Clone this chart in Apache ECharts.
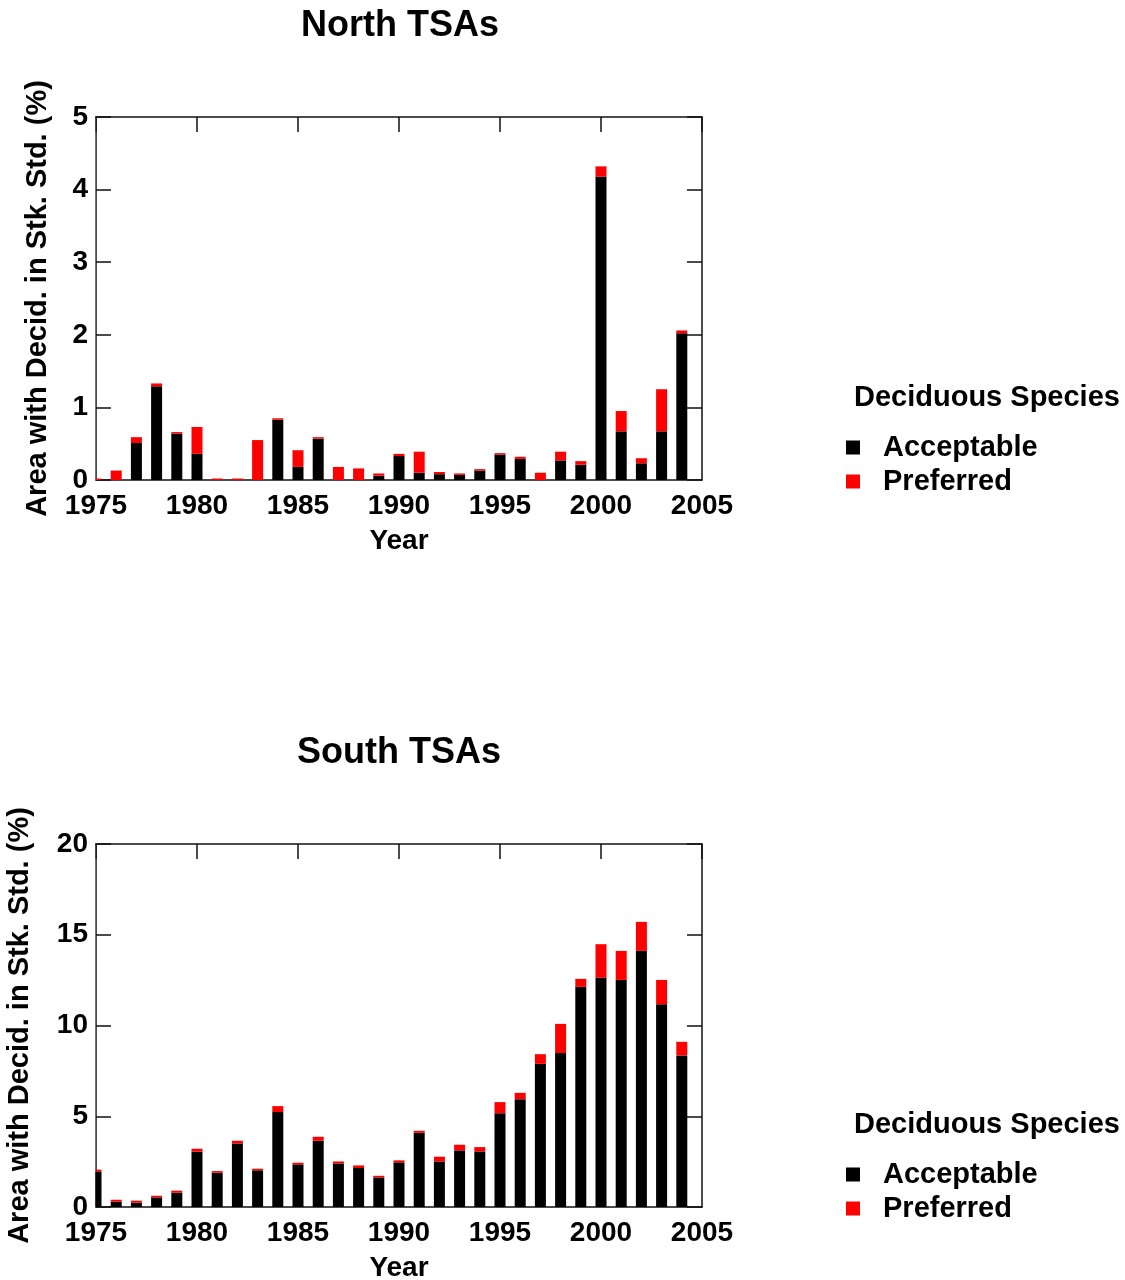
<!DOCTYPE html>
<html>
<head>
<meta charset="utf-8">
<script src="https://cdn.jsdelivr.net/npm/echarts@6/dist/echarts.min.js"></script>
<style>
  html, body { margin: 0; padding: 0; background: #fff; }
  #chart { width: 1125px; height: 1280px; }
</style>
</head>
<body>
<div id="chart"></div>
<script>
// Harvest years (bars sit on the year value)
const years = [1975, 1976, 1977, 1978, 1979, 1980, 1981, 1982, 1983, 1984,
               1985, 1986, 1987, 1988, 1989, 1990, 1991, 1992, 1993, 1994,
               1995, 1996, 1997, 1998, 1999, 2000, 2001, 2002, 2003, 2004];

// North TSAs: % of area with deciduous species in stocking standard
const northAcceptable = [0, 0, 0.51, 1.29, 0.64, 0.36, 0, 0, 0, 0.83,
                         0.18, 0.57, 0, 0, 0.06, 0.33, 0.10, 0.08, 0.07, 0.13,
                         0.35, 0.29, 0, 0.27, 0.21, 4.18, 0.67, 0.23, 0.67, 2.02];
const northPreferred  = [0.02, 0.13, 0.08, 0.04, 0.02, 0.37, 0.02, 0.02, 0.55, 0.02,
                         0.23, 0.02, 0.18, 0.16, 0.03, 0.03, 0.29, 0.03, 0.02, 0.02,
                         0.02, 0.03, 0.10, 0.12, 0.05, 0.14, 0.28, 0.07, 0.58, 0.04];

// South TSAs
const southAcceptable = [1.96, 0.29, 0.24, 0.53, 0.79, 3.05, 1.89, 3.50, 2.02, 5.23,
                         2.35, 3.65, 2.40, 2.15, 1.63, 2.46, 4.09, 2.51, 3.12, 3.06,
                         5.17, 5.94, 7.89, 8.48, 12.13, 12.64, 12.51, 14.11, 11.17, 8.35];
const southPreferred  = [0.10, 0.11, 0.11, 0.09, 0.11, 0.16, 0.09, 0.15, 0.09, 0.33,
                         0.09, 0.22, 0.11, 0.14, 0.09, 0.11, 0.11, 0.26, 0.31, 0.24,
                         0.61, 0.35, 0.53, 1.61, 0.44, 1.84, 1.60, 1.60, 1.34, 0.75];

const yearTicks = [1975, 1980, 1985, 1990, 1995, 2000, 2005];
const panelTitles = ['North TSAs', 'South TSAs'];
const legendTitle = 'Deciduous Species';
const seriesNames = ['Acceptable', 'Preferred'];
const seriesColors = ['#000000', '#ff0000'];
const yTitle = 'Area with Decid. in Stk. Std. (%)';
const xTitle = 'Year';
const yMax = [5, 20];
const yStep = [1, 5];

const FONT = "'Liberation Sans', Arial, Helvetica, sans-serif";
const BAR_W = 11;
// value first, year second: the value dimension is then the one that gets stacked
const rows = (vals) => years.map((y, i) => [vals[i], y]);

const lineStyle = { color: '#111', width: 1.5 };

function xAxesFor(gridIndex) {
  return [
    {
      gridIndex, type: 'value', position: 'bottom',
      min: yearTicks[0], max: yearTicks[yearTicks.length - 1], interval: 5,
      axisLine: { show: true, onZero: false, lineStyle },
      axisTick: { show: false },
      splitLine: { show: false },
      axisLabel: { color: '#000', fontFamily: FONT, fontWeight: 'bold', fontSize: 28, margin: 12,
                   formatter: (v) => String(v) },
      name: xTitle, nameLocation: 'middle', nameGap: 47,
      nameTextStyle: { color: '#000', fontFamily: FONT, fontWeight: 'bold', fontSize: 28 }
    },
    {
      gridIndex, type: 'value', position: 'top',
      min: yearTicks[0], max: yearTicks[yearTicks.length - 1], interval: 5,
      axisLine: { show: true, onZero: false, lineStyle },
      axisTick: { show: true, inside: true, length: 15, lineStyle },
      splitLine: { show: false },
      axisLabel: { show: false }
    }
  ];
}

function yAxesFor(gridIndex, max, interval, nameGap) {
  return [
    {
      gridIndex, type: 'value', position: 'left', min: 0, max, interval,
      axisLine: { show: true, onZero: false, lineStyle },
      axisTick: { show: true, inside: true, length: 15, lineStyle },
      splitLine: { show: false },
      axisLabel: { color: '#000', fontFamily: FONT, fontWeight: 'bold', fontSize: 28, margin: 8 },
      name: yTitle, nameLocation: 'middle', nameGap, nameRotate: 90,
      nameTextStyle: { color: '#000', fontFamily: FONT, fontWeight: 'bold', fontSize: 29 }
    },
    {
      gridIndex, type: 'value', position: 'right', min: 0, max, interval,
      axisLine: { show: true, onZero: false, lineStyle },
      axisTick: { show: true, inside: true, length: 15, lineStyle },
      splitLine: { show: false },
      axisLabel: { show: false }
    }
  ];
}

function barSeries(name, color, vals, axisIndex, stack) {
  return {
    name, type: 'bar', stack,
    xAxisIndex: axisIndex, yAxisIndex: axisIndex,
    encode: { x: 1, y: 0 },
    barWidth: BAR_W,
    itemStyle: { color },
    emphasis: { disabled: true },
    data: rows(vals)
  };
}

function legendAt(top) {
  return {
    orient: 'vertical', left: 846, top, padding: 0,
    itemWidth: 14, itemHeight: 14, itemGap: 5, icon: 'rect',
    data: seriesNames,
    textStyle: { color: '#000', fontFamily: FONT, fontWeight: 'bold', fontSize: 29,
                 lineHeight: 28, padding: [0, 0, 0, 18] }
  };
}

function titleAt(text, left, top, size, align) {
  return {
    text, left, top, padding: 0, textAlign: align,
    textStyle: { color: '#000', fontFamily: FONT, fontWeight: 'bold', fontSize: size }
  };
}

const chart = echarts.init(document.getElementById('chart'), null, { renderer: 'canvas' });

chart.setOption({
  backgroundColor: '#fff',
  animation: false,
  title: [
    titleAt(panelTitles[0], 400, 8, 36, 'center'),
    titleAt(panelTitles[1], 399, 735, 36, 'center'),
    titleAt(legendTitle, 854, 383, 29, 'left'),
    titleAt(legendTitle, 854, 1110, 29, 'left')
  ],
  legend: [legendAt(433), legendAt(1160)],
  grid: [
    { left: 96, top: 117, width: 606, height: 363, containLabel: false, outerBoundsMode: 'none' },
    { left: 96, top: 844, width: 606, height: 363, containLabel: false, outerBoundsMode: 'none' }
  ],
  xAxis: [...xAxesFor(0), ...xAxesFor(1)],
  yAxis: [...yAxesFor(0, yMax[0], yStep[0], 44), ...yAxesFor(1, yMax[1], yStep[1], 62)],
  series: [
    barSeries(seriesNames[0], seriesColors[0], northAcceptable, 0, 'north'),
    barSeries(seriesNames[1], seriesColors[1], northPreferred, 0, 'north'),
    barSeries(seriesNames[0], seriesColors[0], southAcceptable, 2, 'south'),
    barSeries(seriesNames[1], seriesColors[1], southPreferred, 2, 'south')
  ]
});

// Bars on a value axis are not clipped at the plot edge; trim the part of the
// first-year bar that spills left of the y axis with a white strip.
const masks = [0, 2].map((axisIndex, k) => {
  const bottomLeft = chart.convertToPixel({ xAxisIndex: axisIndex, yAxisIndex: axisIndex }, [yearTicks[0], 0]);
  const topLeft = chart.convertToPixel({ xAxisIndex: axisIndex, yAxisIndex: axisIndex }, [yearTicks[0], yMax[k]]);
  const w = BAR_W / 2 + 1.5;
  return {
    type: 'rect', z: 10, silent: true,
    shape: { x: bottomLeft[0] - 0.8 - w, y: topLeft[1] + 1, width: w, height: bottomLeft[1] - topLeft[1] - 1 },
    style: { fill: '#fff' }
  };
});
chart.setOption({ graphic: masks });
</script>
</body>
</html>
